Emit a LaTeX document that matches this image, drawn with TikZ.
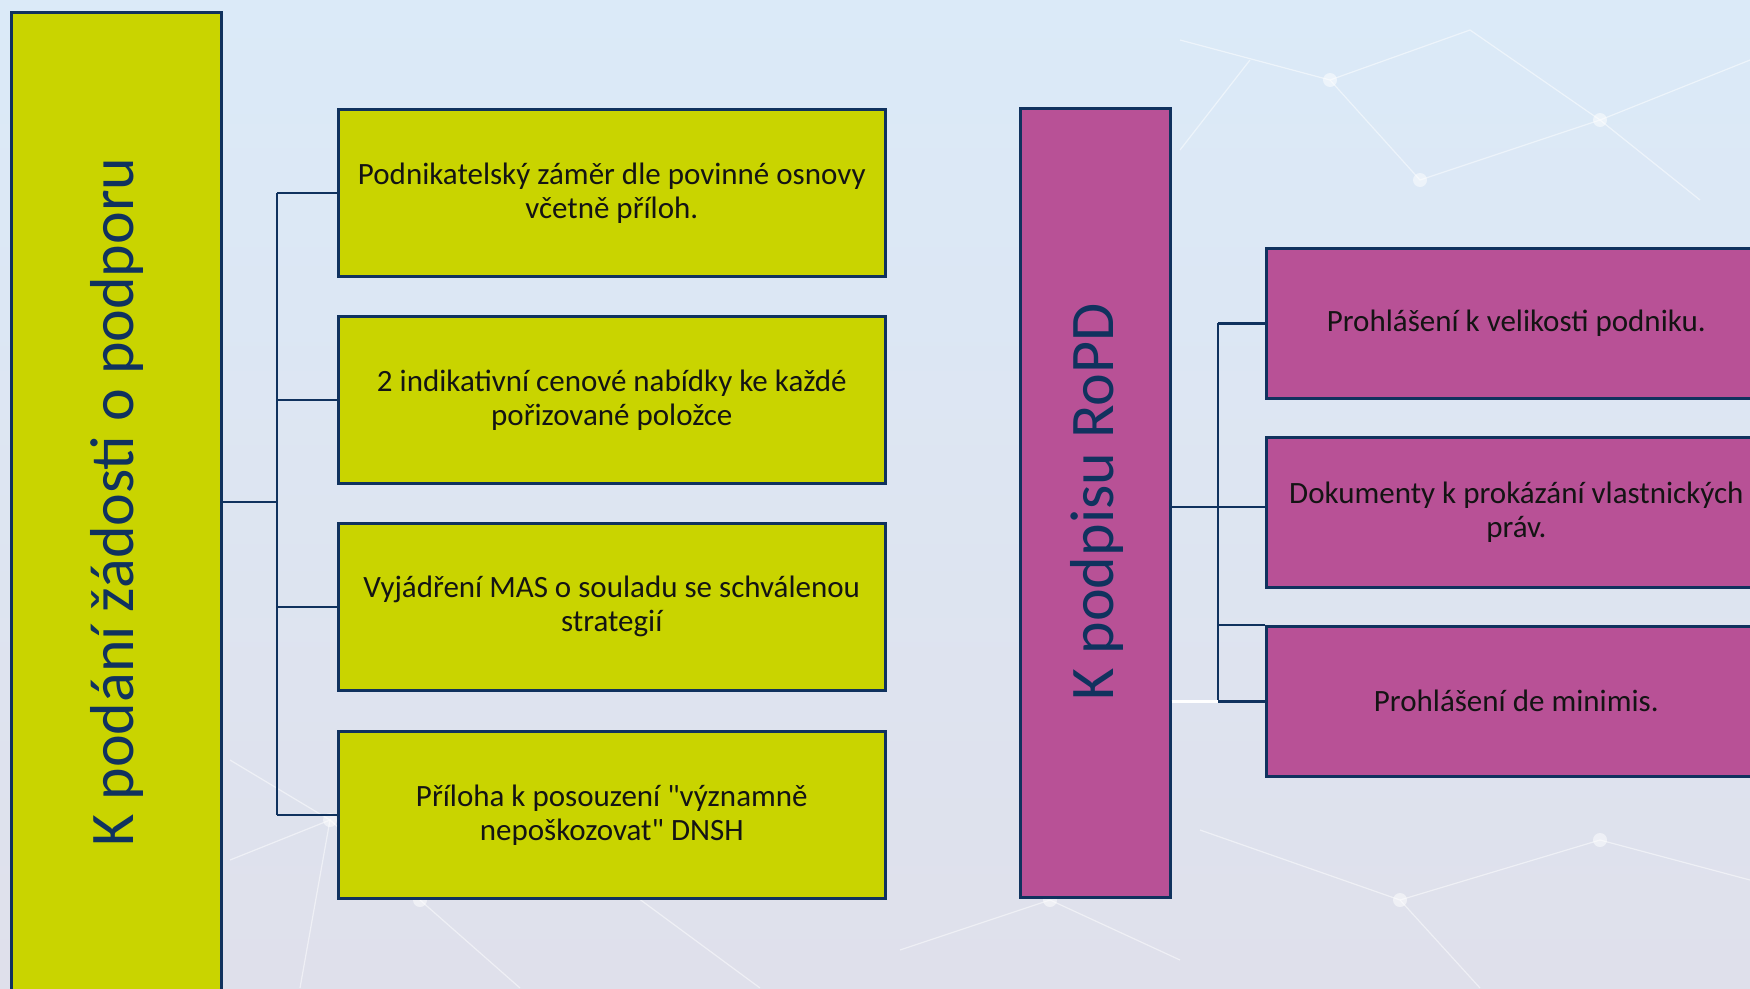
\documentclass[tikz,border=0pt]{standalone}
\usepackage{fontspec}
\setmainfont{Carlito}[Ligatures=TeXOff]
\usetikzlibrary{positioning}
\definecolor{navy}{HTML}{10325E}
\definecolor{lime}{HTML}{C9D400}
\definecolor{magen}{HTML}{B85196}
\definecolor{bgtop}{HTML}{DBEAF8}
\definecolor{bgbot}{HTML}{DFE0EB}
\definecolor{txt}{HTML}{141414}
\tikzset{
  itembox/.style={draw=navy, line width=2.6pt, anchor=north west, inner sep=0pt,
    text=txt, align=center, font=\fontsize{31}{34}\selectfont},
  titlebox/.style={draw=navy, line width=2.6pt, anchor=north west, inner sep=0pt},
  titletext/.style={rotate=90, text=navy, font=\fontsize{62}{70}\selectfont},
  conn/.style={draw=navy, line width=2.4pt},
}
\begin{document}
\begin{tikzpicture}[x=1pt,y=-1pt]
\useasboundingbox (0,0) rectangle (1750,988);
\shade[top color=bgtop, bottom color=bgbot] (0,0) rectangle (1750,988);
% faint network decoration
\begin{scope}[white, opacity=0.5, line width=1.2pt]
  \draw (230,760) -- (330,820) -- (420,900) -- (520,988);
  \draw (230,860) -- (330,820) -- (300,988);
  \draw (420,900) -- (600,870) -- (760,988);
  \draw (1180,40) -- (1330,80) -- (1470,30) -- (1600,120) -- (1750,60);
  \draw (1330,80) -- (1420,180) -- (1600,120) -- (1700,200);
  \draw (1180,150) -- (1250,60);
  \draw (900,950) -- (1050,900) -- (1180,960);
  \draw (1200,830) -- (1400,900) -- (1600,840) -- (1750,880);
  \draw (1400,900) -- (1480,988);
  \foreach \p in {(330,820),(420,900),(1330,80),(1600,120),(1420,180),(1050,900),(1400,900),(1600,840)}
    \fill \p circle (7);
\end{scope}
% left group
\node[titlebox, fill=lime, minimum width=210, minimum height=1000] (L) at (10,11) {};
\node[titletext] (Lt) at (117,502) {K podání žádosti o podporu};
\node[itembox, fill=lime, minimum width=547, minimum height=167] (L1) at (337,108)
  {Podnikatelský záměr dle povinné osnovy\\včetně příloh.};
\node[itembox, fill=lime, minimum width=547, minimum height=167] (L2) at (337,315)
  {2 indikativní cenové nabídky ke každé\\pořizované položce};
\node[itembox, fill=lime, minimum width=547, minimum height=167] (L3) at (337,522)
  {Vyjádření MAS o souladu se schválenou\\strategií};
\node[itembox, fill=lime, minimum width=547, minimum height=167] (L4) at (337,730)
  {Příloha k posouzení "významně\\nepoškozovat" DNSH};
\coordinate (Ls) at (277,502);
\draw[conn] (L.east |- Ls) -- (Ls);
\draw[conn] (Ls |- L1.west) -- (Ls |- L4.west);
\foreach \n in {L1,L2,L3,L4} \draw[conn] (Ls |- \n.west) -- (\n.west);
% right group
\node[titlebox, fill=magen, minimum width=150, minimum height=789] (R) at (1019,107) {};
\node[titletext] (Rt) at (1097,502) {K podpisu RoPD};
\node[itembox, fill=magen, minimum width=500, minimum height=150] (R1) at (1265,247)
  {Prohlášení k velikosti podniku.};
\node[itembox, fill=magen, minimum width=500, minimum height=150] (R2) at (1265,436)
  {Dokumenty k prokázání vlastnických\\práv.};
\node[itembox, fill=magen, minimum width=500, minimum height=150] (R3) at (1265,625)
  {Prohlášení de minimis.};
\coordinate (Rs) at (1218,507);
\draw[conn] (R.east |- Rs) -- (R2.west |- Rs);
\draw[conn] (Rs |- R1.west) -- (Rs |- R3.west);
\draw[conn] (Rs |- R1.west) -- (R1.west);
\draw[conn] (Rs |- R3.west) -- (R3.west);
\draw[conn] (Rs |- R3.north west) -- (R3.north west);
\draw[white, line width=2.4pt] (R.east |- R3.west) -- (Rs |- R3.west);
\end{tikzpicture}
\end{document}
